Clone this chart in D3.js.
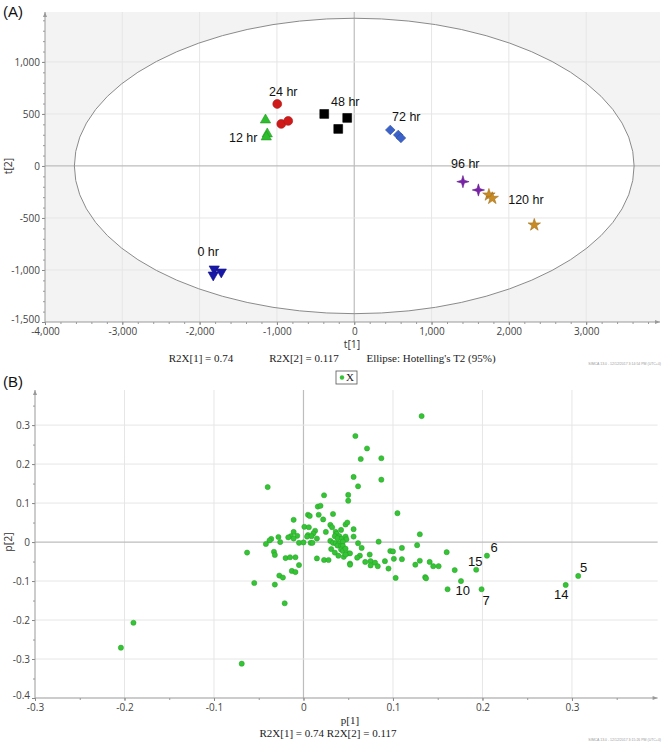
<!DOCTYPE html>
<html><head><meta charset="utf-8">
<script src="https://cdn.jsdelivr.net/npm/d3@7"></script>
<style>body{margin:0;background:#fff} svg{display:block}</style>
</head><body><svg id="c" width="666" height="746"></svg>
<script>
// ---------- DATA ----------
const groups      = ["0 hr","12 hr","24 hr","48 hr","72 hr","96 hr","120 hr"];
const groupColors = ["#1818a8","#2dbe2d","#d01a1a","#000000","#3b62c9","#7a22aa","#c98b24"];
const groupShapes = ["triDown","triUp","circle","square","diamond","star4","star5"];
const scoreT1 = [
  [-1811,-1824,-1720],
  [-1148,-1125,-1138],
  [-996,-944,-854],
  [-388,-91,-207],
  [466,569,604],
  [1406,1606],
  [1742,1785,2329]
];
const scoreT2 = [
  [-990,-1048,-1019],
  [442,308,279],
  [596,404,433],
  [500,462,356],
  [346,298,269],
  [-151,-231],
  [-279,-311,-567]
];
const groupLabelT1 = [-1889,-1436,-918,-116,673,1436,2221];
const groupLabelT2 = [-837,260,702,606,462,10,-334];
const ellipseA = 3620, ellipseB = 1420;
const tTicksX = [-4000,-3000,-2000,-1000,0,1000,2000,3000];
const tTicksY = [-1500,-1000,-500,0,500,1000];

const loadP1 = [-0.204,-0.190,-0.069,-0.040,-0.011,-0.011,-0.007,-0.014,-0.011,-0.017,-0.028,-0.036,-0.038,-0.042,-0.026,-0.005,-0.063,-0.033,-0.032,-0.020,-0.015,-0.009,-0.005,-0.013,-0.009,-0.027,-0.023,-0.055,-0.032,-0.021,
  0.058,0.071,0.064,0.087,0.056,0.061,0.087,0.050,0.050,0.023,0.016,0.019,0.005,0.007,0.033,0.017,0.022,0.105,0.001,0.006,0.013,0.011,0.005,0.004,0.009,0.015,0.008,0.010,0.000,0.030,
  0.032,0.025,0.042,0.047,0.049,0.056,0.056,0.036,0.037,0.035,0.040,0.038,0.043,0.047,0.048,0.030,0.033,0.036,0.040,0.044,0.038,0.042,0.044,0.031,0.035,0.039,0.042,0.044,0.047,0.050,
  0.052,0.045,0.047,0.061,0.065,0.084,0.074,0.063,0.060,0.069,0.075,0.075,0.080,0.083,0.052,0.052,0.015,0.023,0.028,0.091,0.097,0.100,0.101,0.095,0.103,
  0.132,0.130,0.127,0.110,0.110,0.125,0.130,0.136,0.137,0.141,0.145,0.151,0.160,0.161,0.169,0.176,0.193,0.205,0.199,0.293,0.307];
const loadP2 = [-0.271,-0.207,-0.312,0.141,0.057,0.026,0.016,0.015,0.009,0.012,0.013,0.008,0.004,-0.005,0.000,-0.002,-0.027,-0.025,-0.033,-0.041,-0.039,-0.039,-0.059,-0.074,-0.077,-0.086,-0.091,-0.105,-0.109,-0.157,
  0.272,0.240,0.213,0.215,0.167,0.143,0.160,0.121,0.106,0.120,0.091,0.093,0.070,0.067,0.072,0.070,0.058,0.074,0.039,0.038,0.029,0.022,0.018,0.014,0.015,0.009,-0.002,-0.002,-0.001,0.044,
  0.038,0.026,0.031,0.045,0.050,0.033,0.014,0.026,0.021,0.015,0.015,0.010,0.009,0.014,0.007,0.003,-0.002,-0.003,-0.003,0.001,-0.009,-0.010,-0.010,-0.018,-0.027,-0.035,-0.019,-0.023,-0.017,-0.029,
  -0.029,-0.038,-0.032,-0.003,-0.015,0.001,-0.032,-0.035,-0.040,-0.051,-0.049,-0.060,-0.053,-0.062,-0.055,-0.058,-0.042,-0.046,-0.046,-0.049,-0.023,-0.024,-0.043,-0.068,-0.092,
  0.323,0.020,-0.008,-0.015,-0.044,-0.058,-0.048,-0.090,-0.093,-0.051,-0.062,-0.062,-0.026,-0.121,-0.072,-0.100,-0.071,-0.035,-0.121,-0.110,-0.087];
const pointLabels  = ["6","15","10","7","14","5"];
const pointLabelP1 = [0.213,0.192,0.178,0.204,0.288,0.313];
const pointLabelP2 = [-0.017,-0.053,-0.128,-0.152,-0.137,-0.067];
const pTicksX = [-0.3,-0.2,-0.1,0,0.1,0.2,0.3];
const pTicksY = [-0.4,-0.3,-0.2,-0.1,0,0.1,0.2,0.3];

// ---------- DRAW ----------
const svg = d3.select("#c");
const fmtT = v => d3.format(",")(v).replace("\u2212","-");
const fmtP = v => (v===0 ? "0" : d3.format(".1f")(v)).replace("\u2212","-");
const TICKFONT = "'Open Sans','Noto Sans',sans-serif";
const SERIF = "'Liberation Serif','DejaVu Serif',serif";
const SANS = "'Liberation Sans',Arial,sans-serif";

function drawGrid(g, x, y, ticksX, ticksY) {
  const [x0,x1] = x.range(), [y0,y1] = y.range();
  g.append("g").selectAll("line").data(ticksX.filter(d=>x(d)>x0+1)).join("line")
    .attr("x1",d=>x(d)).attr("x2",d=>x(d)).attr("y1",y0).attr("y2",y1)
    .attr("stroke",d=>d===0?"#bdbdbd":"#e6e6e6").attr("stroke-width",d=>d===0?1.2:1);
  g.append("g").selectAll("line").data(ticksY.filter(d=>y(d)<y0-1)).join("line")
    .attr("x1",x0).attr("x2",x1).attr("y1",d=>y(d)).attr("y2",d=>y(d))
    .attr("stroke",d=>d===0?"#bdbdbd":"#e6e6e6").attr("stroke-width",d=>d===0?1.2:1);
}

function drawAxisFrame(g, x, y, ticksX, ticksY, fmt, minorX, minorY) {
  const [x0,x1] = x.range(), [y0,y1] = y.range();
  const ax = g.append("g").attr("transform",`translate(0,${y0})`)
    .call(d3.axisBottom(x).tickValues(minorX).tickSize(2).tickFormat(""));
  ax.select(".domain").remove();
  ax.selectAll("line").attr("stroke","#999");
  const ay = g.append("g").attr("transform",`translate(${x0},0)`)
    .call(d3.axisLeft(y).tickValues(minorY).tickSize(2).tickFormat(""));
  ay.select(".domain").remove();
  ay.selectAll("line").attr("stroke","#999");
  const bx = g.append("g").attr("transform",`translate(0,${y0})`)
    .call(d3.axisBottom(x).tickValues(ticksX).tickSize(3).tickPadding(3).tickFormat(fmt));
  bx.select(".domain").remove();
  bx.selectAll("line").attr("stroke","#888");
  bx.selectAll("text").attr("fill","#444").style("font-family",TICKFONT).style("font-size","10px");
  const by = g.append("g").attr("transform",`translate(${x0},0)`)
    .call(d3.axisLeft(y).tickValues(ticksY).tickSize(3).tickPadding(2).tickFormat(fmt));
  by.select(".domain").remove();
  by.selectAll("line").attr("stroke","#888");
  by.selectAll("text").attr("fill","#444").style("font-family",TICKFONT).style("font-size","10px");
  by.selectAll(".tick").filter(d=>d===ticksY[0]).select("text").attr("dy","0.05em");
  g.append("line").attr("x1",x0).attr("x2",x1).attr("y1",y0).attr("y2",y0).attr("stroke","#999");
  g.append("line").attr("x1",x0).attr("x2",x0).attr("y1",y0).attr("y2",y1).attr("stroke","#999");
  g.append("path").attr("d",`M${x1},${y0}l-5,-2v4z`).attr("fill","#999");
  g.append("path").attr("d",`M${x0},${y1}l-2,5h4z`).attr("fill","#999");
}

// ===== Panel A =====
const tX = d3.scaleLinear().domain([-4000,3955]).range([45,660]);
const tY = d3.scaleLinear().domain([-1500,1480]).range([322,12]);
const gA = svg.append("g");
gA.append("rect").attr("x",45).attr("y",12).attr("width",615).attr("height",310).attr("fill","#f3f3f3");
gA.append("ellipse").attr("cx",tX(0)).attr("cy",tY(0))
  .attr("rx",tX(ellipseA)-tX(0)).attr("ry",tY(0)-tY(ellipseB)).attr("fill","#fff");
drawGrid(gA,tX,tY,tTicksX,tTicksY);
gA.append("ellipse").attr("cx",tX(0)).attr("cy",tY(0))
  .attr("rx",tX(ellipseA)-tX(0)).attr("ry",tY(0)-tY(ellipseB))
  .attr("fill","none").attr("stroke","#8a8a8a").attr("stroke-width",1);
drawAxisFrame(gA,tX,tY,tTicksX,tTicksY,fmtT,d3.range(-4000,3901,200),d3.range(-1500,1401,100));

const star4 = { draw(ctx,size){ const r=Math.sqrt(size)*0.85, ri=r*0.32;
  for(let i=0;i<8;i++){ const a=i*Math.PI/4 - Math.PI/2, rr=i%2?ri:r;
    const px=Math.cos(a)*rr, py=Math.sin(a)*rr; i?ctx.lineTo(px,py):ctx.moveTo(px,py);} ctx.closePath(); } };
const shapeDef = {
  triDown:{type:d3.symbolTriangle,size:46,rot:180},
  triUp:{type:d3.symbolTriangle,size:46,rot:0},
  circle:{type:d3.symbolCircle,size:62,rot:0},
  square:{type:d3.symbolSquare,size:78,rot:0},
  diamond:{type:d3.symbolSquare,size:46,rot:45},
  star4:{type:star4,size:52,rot:0},
  star5:{type:d3.symbolStar,size:48,rot:0}
};
groups.forEach((name,gi)=>{
  const sd = shapeDef[groupShapes[gi]];
  const pts = scoreT1[gi].map((v,i)=>[v,scoreT2[gi][i]]);
  gA.append("g").selectAll("path").data(pts).join("path")
    .attr("d",d3.symbol().type(sd.type).size(sd.size))
    .attr("transform",d=>`translate(${tX(d[0])},${tY(d[1])}) rotate(${sd.rot})`)
    .attr("fill",groupColors[gi])
    .attr("stroke",d3.color(groupColors[gi]).darker(0.6)).attr("stroke-width",0.6);
  gA.append("text").attr("x",tX(groupLabelT1[gi])).attr("y",tY(groupLabelT2[gi]))
    .attr("text-anchor","middle").attr("dominant-baseline","middle")
    .style("font-family",SANS).style("font-size","12.5px").attr("fill","#111").text(name);
});
gA.append("text").attr("x",352).attr("y",345).attr("text-anchor","middle").attr("dominant-baseline","middle")
  .style("font-family",TICKFONT).style("font-size","10.5px").attr("fill","#333").text("t[1]");
gA.append("text").attr("transform","translate(9,166) rotate(-90)").attr("text-anchor","middle").attr("dominant-baseline","middle")
  .style("font-family",TICKFONT).style("font-size","10.5px").attr("fill","#333").text("t[2]");
[["R2X[1] = 0.74",201],["R2X[2] = 0.117",304],["Ellipse: Hotelling's T2 (95%)",431]].forEach(([t,xx])=>{
  gA.append("text").attr("x",xx).attr("y",359).attr("text-anchor","middle").attr("dominant-baseline","middle")
    .style("font-family",SERIF).style("font-size","11px").attr("fill","#222").text(t);
});
gA.append("text").attr("x",661).attr("y",365).attr("text-anchor","end")
  .style("font-family",SANS).style("font-size","3.5px").attr("fill","#999").text("SIMCA 13.0 - 12/12/2017 3:14:54 PM (UTC+0)");
svg.append("text").attr("x",3).attr("y",17).style("font-family",SANS).style("font-size","15px").attr("fill","#111").text("(A)");

// ===== Panel B =====
const pX = d3.scaleLinear().domain([-0.3,0.3957]).range([35,657.6]);
const pY = d3.scaleLinear().domain([-0.4,0.39]).range([698,390]);
const gB = svg.append("g");
drawGrid(gB,pX,pY,pTicksX,pTicksY);
drawAxisFrame(gB,pX,pY,pTicksX,pTicksY,fmtP,d3.range(-0.3,0.391,0.05),d3.range(-0.4,0.351,0.05));
gB.append("g").selectAll("circle").data(loadP1.map((v,i)=>[v,loadP2[i]])).join("circle")
  .attr("cx",d=>pX(d[0])).attr("cy",d=>pY(d[1])).attr("r",2.6)
  .attr("fill","#35c435").attr("stroke","#27a027").attr("stroke-width",0.5);
pointLabels.forEach((t,i)=>{
  gB.append("text").attr("x",pX(pointLabelP1[i])).attr("y",pY(pointLabelP2[i]))
    .attr("text-anchor","middle").attr("dominant-baseline","middle")
    .style("font-family",SANS).style("font-size","13px").attr("fill","#111").text(t);
});
// legend
gB.append("rect").attr("x",336).attr("y",371).attr("width",21).attr("height",13)
  .attr("fill","#fff").attr("stroke","#555").attr("stroke-width",0.8);
gB.append("circle").attr("cx",342).attr("cy",377.5).attr("r",2.2).attr("fill","#35c435");
gB.append("text").attr("x",350).attr("y",378).attr("text-anchor","middle").attr("dominant-baseline","middle")
  .style("font-family",SERIF).style("font-size","11px").attr("fill","#222").text("X");
gB.append("text").attr("x",350).attr("y",721).attr("text-anchor","middle").attr("dominant-baseline","middle")
  .style("font-family",SERIF).style("font-size","11px").attr("fill","#222").text("p[1]");
gB.append("text").attr("transform","translate(9,542) rotate(-90)").attr("text-anchor","middle").attr("dominant-baseline","middle")
  .style("font-family",TICKFONT).style("font-size","10.5px").attr("fill","#333").text("p[2]");
gB.append("text").attr("x",328).attr("y",734).attr("text-anchor","middle").attr("dominant-baseline","middle")
  .style("font-family",SERIF).style("font-size","11px").attr("fill","#222").text("R2X[1] = 0.74  R2X[2] = 0.117");
gB.append("text").attr("x",661).attr("y",741).attr("text-anchor","end")
  .style("font-family",SANS).style("font-size","3.5px").attr("fill","#999").text("SIMCA 13.0 - 12/12/2017 3:15:26 PM (UTC+0)");
svg.append("text").attr("x",3).attr("y",387).style("font-family",SANS).style("font-size","15px").attr("fill","#111").text("(B)");
</script></body></html>
